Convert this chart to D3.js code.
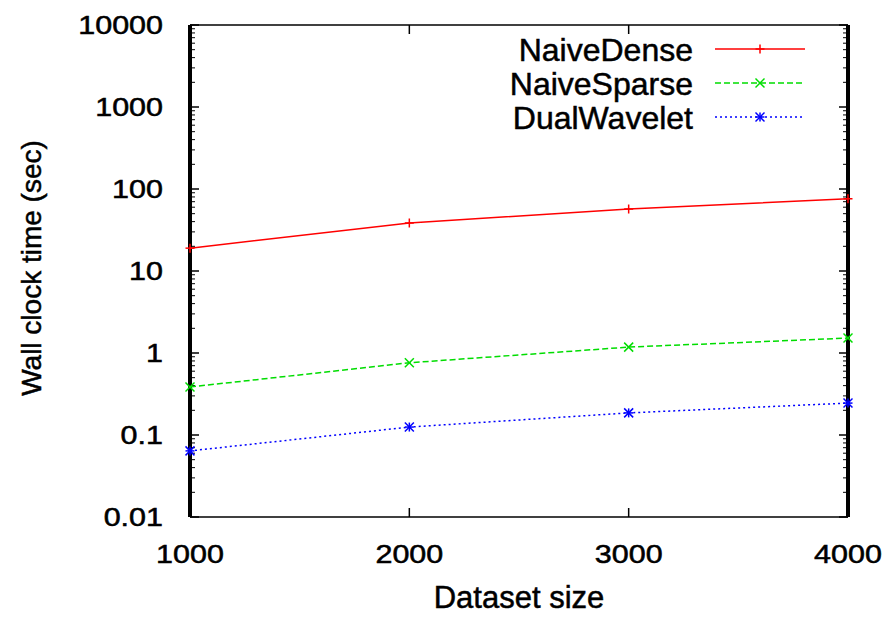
<!DOCTYPE html>
<html>
<head>
<meta charset="utf-8">
<script src="https://cdn.jsdelivr.net/npm/d3@7/dist/d3.min.js"></script>
<style>
  body { margin: 0; background: #fff; }
  text { font-family: "Liberation Sans", Arial, sans-serif; fill: #000; stroke: #000; stroke-width: 0.5; }
</style>
</head>
<body>
<div id="chart"></div>
<script>
// ---------- DATA ----------
const sizes = [1000, 2000, 3000, 4000];
const naiveDense = [19, 38.5, 57, 76];
const naiveSparse = [0.385, 0.76, 1.18, 1.52];
const dualWavelet = [0.064, 0.125, 0.186, 0.245];
const seriesNames = ["NaiveDense", "NaiveSparse", "DualWavelet"];
const yTicks = [0.01, 0.1, 1, 10, 100, 1000, 10000];

const W = 886, H = 617;
const margin = { top: 25, right: 38, bottom: 100, left: 190 };
const innerW = W - margin.left - margin.right;
const innerH = H - margin.top - margin.bottom;

const styles = [
	{ color: "#ff0000", dash: null, marker: "plus" },
	{ color: "#00dd00", dash: "6,3", marker: "cross" },
	{ color: "#0000ff", dash: "2,3", marker: "star" },
];
const series = [naiveDense, naiveSparse, dualWavelet];

const svg = d3.select("#chart").append("svg")
	.attr("width", W).attr("height", H);
const g = svg.append("g").attr("transform", `translate(${margin.left},${margin.top})`);

const x = d3.scaleLinear().domain([1000, 4000]).range([0, innerW]);
const y = d3.scaleLog().domain([0.01, 10000]).range([innerH, 0]);

// minor ticks (2..9 per decade)
let minor = [];
for (let p = -2; p < 4; p++) {
	for (let m = 2; m <= 9; m++) minor.push(m * Math.pow(10, p));
}

// y ticks left and right
g.selectAll(".ymaj").data(yTicks).enter().append("g").each(function (d) {
	const s = d3.select(this);
	s.append("line").attr("x1", 0).attr("x2", 9).attr("y1", y(d)).attr("y2", y(d)).attr("stroke", "#000").attr("stroke-width", 1.5);
	s.append("line").attr("x1", innerW).attr("x2", innerW - 9).attr("y1", y(d)).attr("y2", y(d)).attr("stroke", "#000").attr("stroke-width", 1.5);
});
g.selectAll(".ymin").data(minor).enter().append("g").each(function (d) {
	const s = d3.select(this);
	s.append("line").attr("x1", 0).attr("x2", 5).attr("y1", y(d)).attr("y2", y(d)).attr("stroke", "#000").attr("stroke-width", 1);
	s.append("line").attr("x1", innerW).attr("x2", innerW - 5).attr("y1", y(d)).attr("y2", y(d)).attr("stroke", "#000").attr("stroke-width", 1);
});
g.selectAll(".ylab").data(yTicks).enter().append("text")
	.attr("transform", (d) => `translate(-27,${y(d) + 9}) scale(1.22,1)`)
	.attr("text-anchor", "end").attr("font-size", 25)
	.text((d) => d);

// x ticks bottom and top
g.selectAll(".xmaj").data(sizes).enter().append("g").each(function (d) {
	const s = d3.select(this);
	s.append("line").attr("x1", x(d)).attr("x2", x(d)).attr("y1", innerH).attr("y2", innerH - 9).attr("stroke", "#000").attr("stroke-width", 1.5);
	s.append("line").attr("x1", x(d)).attr("x2", x(d)).attr("y1", 0).attr("y2", 9).attr("stroke", "#000").attr("stroke-width", 1.5);
});
g.selectAll(".xlab").data(sizes).enter().append("text")
	.attr("transform", (d) => `translate(${x(d)},${innerH + 46}) scale(1.22,1)`)
	.attr("text-anchor", "middle").attr("font-size", 25)
	.text((d) => d);

// frame
g.append("line").attr("x1", 0).attr("x2", innerW).attr("y1", 0).attr("y2", 0).attr("stroke", "#000").attr("stroke-width", 1.5);
g.append("line").attr("x1", 0).attr("x2", innerW).attr("y1", innerH).attr("y2", innerH).attr("stroke", "#000").attr("stroke-width", 1.5);
g.append("line").attr("x1", 0).attr("x2", 0).attr("y1", 0).attr("y2", innerH).attr("stroke", "#000").attr("stroke-width", 4);
g.append("line").attr("x1", innerW).attr("x2", innerW).attr("y1", 0).attr("y2", innerH).attr("stroke", "#000").attr("stroke-width", 4);

// markers
function drawMarker(sel, type, cx, cy, color) {
	const r = 4.5;
	const mk = sel.append("g").attr("transform", `translate(${cx},${cy})`)
		.attr("stroke", color).attr("stroke-width", 1.5);
	if (type === "plus" || type === "star") {
		mk.append("line").attr("x1", -r).attr("x2", r).attr("y1", 0).attr("y2", 0);
		mk.append("line").attr("x1", 0).attr("x2", 0).attr("y1", -r).attr("y2", r);
	}
	if (type === "cross" || type === "star") {
		mk.append("line").attr("x1", -r).attr("x2", r).attr("y1", -r).attr("y2", r);
		mk.append("line").attr("x1", -r).attr("x2", r).attr("y1", r).attr("y2", -r);
	}
}

const line = d3.line().x((d, i) => x(sizes[i])).y((d) => y(d));
series.forEach((vals, k) => {
	const st = styles[k];
	g.append("path").datum(vals)
		.attr("d", line).attr("fill", "none")
		.attr("stroke", st.color).attr("stroke-width", 1.5)
		.attr("stroke-dasharray", st.dash);
	vals.forEach((v, i) => drawMarker(g, st.marker, x(sizes[i]), y(v), st.color));
});

// legend
const legend = svg.append("g");
seriesNames.forEach((name, k) => {
	const st = styles[k];
	const ly = 49 + k * 34;
	legend.append("text").attr("x", 693).attr("y", ly + 12)
		.attr("text-anchor", "end").attr("font-size", 32).text(name);
	legend.append("line").attr("x1", 715).attr("x2", 805).attr("y1", ly).attr("y2", ly)
		.attr("stroke", st.color).attr("stroke-width", 1.5).attr("stroke-dasharray", st.dash);
	drawMarker(legend, st.marker, 760, ly, st.color);
});

// axis titles
svg.append("text").attr("x", 519).attr("y", 608)
	.attr("text-anchor", "middle").attr("font-size", 31).text("Dataset size");
svg.append("text")
	.attr("transform", `translate(41,268) rotate(-90)`)
	.attr("text-anchor", "middle").attr("font-size", 28).text("Wall clock time (sec)");
</script>
</body>
</html>
